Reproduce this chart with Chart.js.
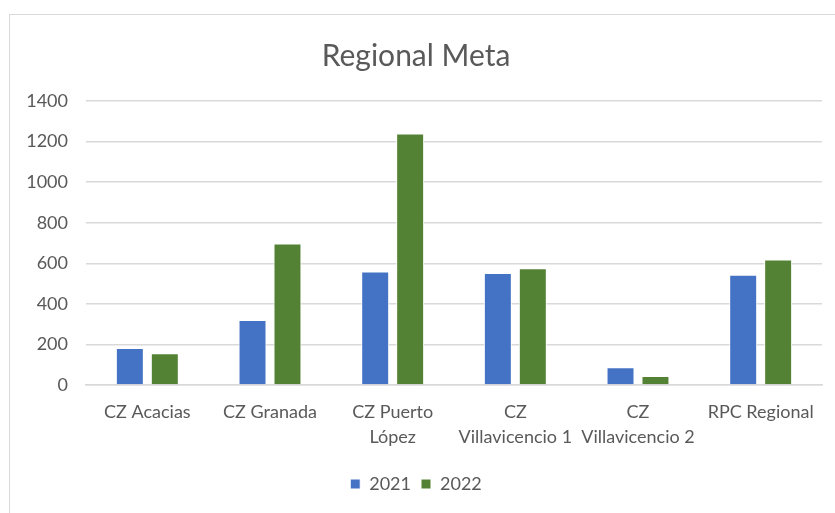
<!DOCTYPE html>
<html>
<head>
<meta charset="utf-8">
<script src="https://cdn.jsdelivr.net/npm/chart.js@4"></script>
<style>
  html, body { margin: 0; padding: 0; background: #fff; overflow: hidden; width: 835px; height: 513px; }
  #frame { position: absolute; left: 9px; top: 14px; width: 830px; height: 505px; border: 1px solid #d9d9d9; }
  #chart { display: block; }
</style>
</head>
<body>
<div id="frame"><canvas id="chart" width="825" height="498"></canvas></div>
<script>
// data
const categories = [
  'CZ Acacias',
  'CZ Granada',
  ['CZ Puerto', 'López'],
  ['CZ', 'Villavicencio 1'],
  ['CZ', 'Villavicencio 2'],
  'RPC Regional'
];
const values2021 = [182, 320, 560, 552, 88, 544];
const values2022 = [156, 698, 1240, 576, 44, 619];

const fontFamily = "Lato, 'Open Sans', sans-serif";
const textColor = '#595959';
const gridColor = '#d9d9d9';

const data = {
  labels: categories,
  datasets: [
    {
      label: '2021',
      data: values2021,
      backgroundColor: '#4472C4',
      borderColor: '#ffffff',
      borderWidth: 1
    },
    {
      label: '2022',
      data: values2022,
      backgroundColor: '#548235',
      borderColor: '#ffffff',
      borderWidth: 1
    }
  ]
};

const options = {
  responsive: false,
  animation: false,
  categoryPercentage: 0.57,
  barPercentage: 0.8,
  layout: {
    padding: { left: 0, right: 13, top: 0, bottom: 10 }
  },
  plugins: {
    title: {
      display: true,
      text: 'Regional Meta',
      color: textColor,
      font: { family: fontFamily, size: 30, weight: 'normal' },
      padding: { top: 23, bottom: 27 }
    },
    legend: {
      position: 'bottom',
      labels: {
        color: textColor,
        font: { family: fontFamily, size: 18 },
        boxWidth: 10,
        boxHeight: 10,
        padding: 10
      }
    },
    tooltip: { enabled: false }
  },
  scales: {
    x: {
      grid: { display: false, drawTicks: false },
      border: { color: gridColor, width: 1.5 },
      ticks: {
        color: textColor,
        font: { family: fontFamily, size: 18, lineHeight: 1.39 },
        padding: 15,
        maxRotation: 0,
        minRotation: 0,
        autoSkip: false
      },
      afterFit: function (scale) { scale.height = 80; }
    },
    y: {
      min: 0,
      max: 1400,
      grid: { color: gridColor, lineWidth: 1.5, drawTicks: false },
      border: { display: false },
      ticks: {
        stepSize: 200,
        color: textColor,
        font: { family: fontFamily, size: 18 },
        padding: 18,
        callback: function (value) { return String(value); }
      },
      afterFit: function (scale) { scale.width = 76; }
    }
  }
};

const chart = new Chart(document.getElementById('chart'), {
  type: 'bar',
  data: data,
  options: options
});
</script>
</body>
</html>
